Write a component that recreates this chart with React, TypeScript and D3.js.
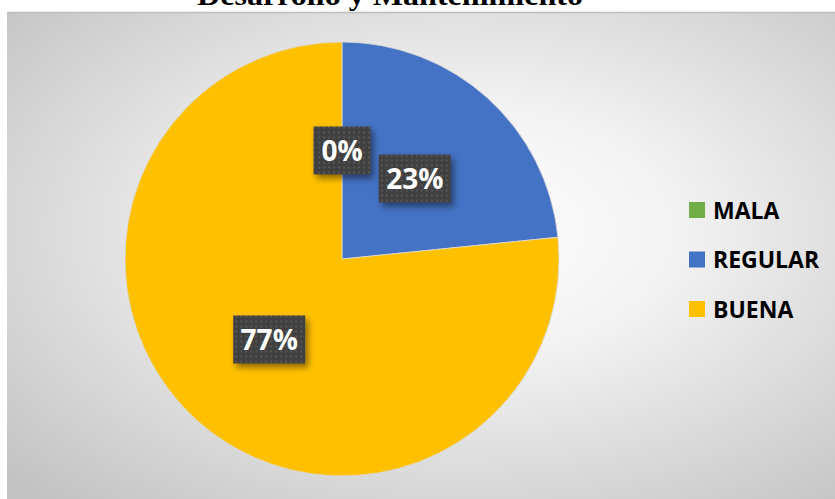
import React from "react";
import * as d3 from "d3";

const categories = ["MALA", "REGULAR", "BUENA"];
const values = [0, 23.4, 76.6];
const colors = ["#70ad47", "#4472c4", "#ffc000"];
const title = "Desarrollo y Mantenimiento";

const W = 835;
const H = 499;

export default function App() {
  const cx = 342, cy = 259, r = 217;
  const total = d3.sum(values);
  const pie = d3.pie<number>().sort(null).value((d) => d)(values);
  const arc = d3.arc<d3.PieArcDatum<number>>().innerRadius(0).outerRadius(r);
  const labelArc = d3.arc<d3.PieArcDatum<number>>().innerRadius(r * 0.5).outerRadius(r * 0.5);
  const fmt = (v: number) => `${Math.round((v / total) * 100)}%`;
  const fs = 28;
  const legendY = d3.scalePoint<string>().domain(categories).range([210, 309]);

  return (
    <div style={{ position: "absolute", left: 0, top: 0 }}>
      <svg width={W} height={H} style={{ display: "block" }}>
        <defs>
          <radialGradient id="bg" cx="0.55" cy="0.45" r="0.75">
            <stop offset="0" stopColor="#ffffff" />
            <stop offset="0.35" stopColor="#f2f2f2" />
            <stop offset="1" stopColor="#c2c2c2" />
          </radialGradient>
          <pattern id="dots" width="5" height="5" patternUnits="userSpaceOnUse">
            <rect width="5" height="5" fill="#404040" />
            <rect x="1" y="1" width="2" height="2" fill="#565656" />
          </pattern>
          <filter id="shadow" x="-30%" y="-30%" width="160%" height="160%">
            <feDropShadow dx="3" dy="4" stdDeviation="3" floodColor="#000" floodOpacity="0.45" />
          </filter>
        </defs>
        <rect x={0} y={0} width={W} height={H} fill="#ffffff" />
        <rect x={7} y={12} width={W - 7} height={H - 12} fill="url(#bg)" />
        <line x1={7} x2={W} y1={12.5} y2={12.5} stroke="#bdbdbd" strokeWidth={1.5} />
        <text
          x={390}
          y={5}
          textAnchor="middle"
          fontFamily="'Liberation Serif', 'DejaVu Serif', serif"
          fontWeight="bold"
          fontSize={30}
          textLength={386}
          lengthAdjust="spacingAndGlyphs"
          fill="#000"
        >
          {title}
        </text>
        <g transform={`translate(${cx},${cy})`}>
          {pie.map((d, i) => (
            <path key={i} d={arc(d) || ""} fill={colors[i]} stroke="#d9d9d9" strokeWidth={0.8} />
          ))}
          {pie.map((d, i) => {
            const [lx, ly] = labelArc.centroid(d);
            const txt = fmt(values[i]);
            const bw = txt.length === 2 ? 57 : 72;
            const bh = 48;
            return (
              <g key={"l" + i} transform={`translate(${lx},${ly})`}>
                <rect x={-bw / 2} y={-bh / 2} width={bw} height={bh} fill="url(#dots)" filter="url(#shadow)" />
                <text
                  x={0}
                  y={fs * 0.36}
                  textAnchor="middle"
                  fontFamily="'Open Sans', Lato, sans-serif"
                  fontWeight="bold"
                  fontSize={fs}
                  fill="#ffffff"
                >
                  {txt}
                </text>
              </g>
            );
          })}
        </g>
        {categories.map((c, i) => {
          const y = legendY(c) as number;
          return (
            <g key={"lg" + i}>
              <rect x={689} y={y - 8} width={16} height={16} fill={colors[i]} />
              <text
                x={713}
                y={y + 8.5}
                fontFamily="'Open Sans', Lato, sans-serif"
                fontWeight="bold"
                fontSize={23}
                fill="#000"
              >
                {c}
              </text>
            </g>
          );
        })}
      </svg>
    </div>
  );
}
